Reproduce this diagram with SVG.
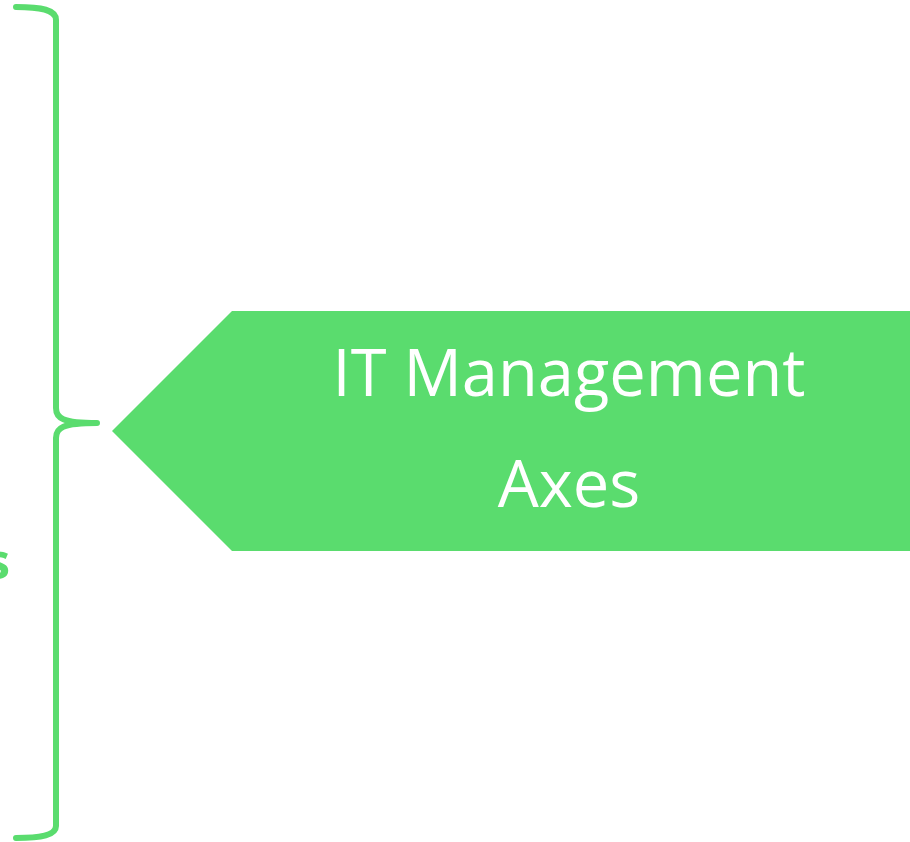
<svg xmlns="http://www.w3.org/2000/svg" width="910" height="842" viewBox="0 0 910 842">
<style>
.brace{fill:none;stroke:#5ADC6E;stroke-width:6;stroke-linecap:round;stroke-linejoin:round}
.shape{fill:#5ADC6E}
.lbl{font-family:"Open Sans","Liberation Sans",sans-serif;font-size:65px;fill:#FFFFFF;text-anchor:middle}
.side{font-family:"Open Sans","Liberation Sans",sans-serif;font-size:50px;font-weight:bold;fill:#5ADC6E;text-anchor:end}
</style>
<rect width="910" height="842" fill="#FFFFFF"/>
<g id="brace">
<path class="brace" d="M16,7 C42,7 56,10 56,20 L56,408 C56,418 62,423 97,423 M97,423 C62,423 56,428 56,438 L56,826 C56,835 42,838 16,838"/>
</g>
<g id="side-label">
<text class="side" x="10" y="579">s</text>
</g>
<g id="it-management-axes">
<polygon class="shape" points="112,431 232,311 910,311 910,551 232,551"/>
<text class="lbl" x="569" y="396">IT Management</text>
<text class="lbl" x="569" y="507">Axes</text>
</g>
<g id="connectors"></g>
</svg>
